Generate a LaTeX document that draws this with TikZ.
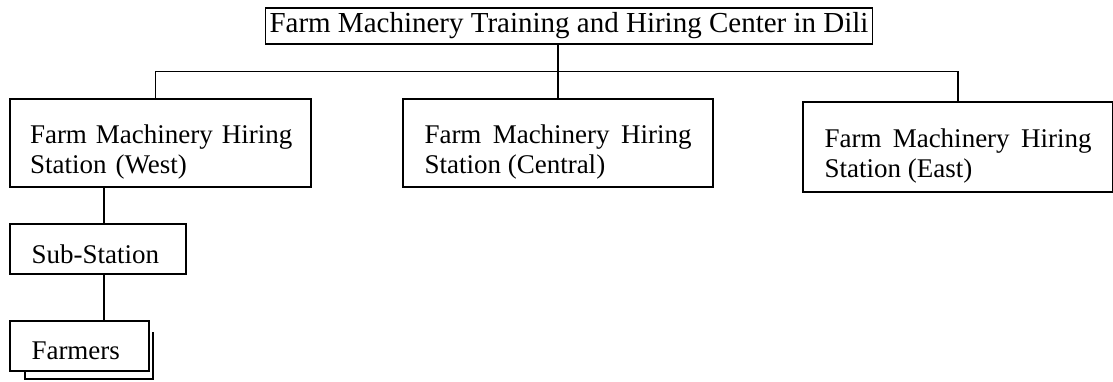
\documentclass[tikz,border=0pt]{standalone}
\usepackage{fontspec}
\setmainfont{Liberation Serif}
\usetikzlibrary{positioning, calc}

\begin{document}
\begin{tikzpicture}[
    x=1pt, y=1pt,
    box/.style={draw, line width=1.7pt, outer sep=0pt, inner ysep=0pt, inner xsep=21.5pt,
                font=\fontsize{27pt}{30pt}\selectfont},
    station/.style={box, text width=#1, minimum height=88pt, align=justify,
                    text height=44pt, text depth=44pt},
    small/.style={box, text width=#1, align=left},
    link/.style={line width=1.7pt}
  ]
  \useasboundingbox (0,0) rectangle (1113,-381);

  % Center
  \node[box, line width=1.4pt, inner xsep=4pt, minimum height=36pt,
        font=\fontsize{29pt}{33pt}\selectfont] (center) at (569,-26)
    {Farm Machinery Training and Hiring Center in Dili};

  % Hiring stations
  \node[station=267pt, below=55pt of center, xshift=-11pt] (central)
    {Farm Machinery Hiring Station (Central)};
  \node[station=261pt, inner xsep=20pt, align=left, left=92pt of central] (west)
    {\mbox{Farm Machinery Hiring}\\\mbox{Station (West)}};
  \node[station=267pt, text height=45pt, text depth=45pt,
        right=90pt of central, yshift=-4pt] (east)
    {Farm Machinery Hiring Station (East)};

  % Sub-station and farmers
  \node[small=133pt, text height=39pt, text depth=11pt,
        below=37pt of west.south west, anchor=north west] (sub) {Sub-Station};
  \node[small=96pt, text height=38pt, text depth=12pt,
        below=47pt of sub.south west, anchor=north west] (farmers) {Farmers};
  \draw[link] ([xshift=15pt]farmers.south west) -- ++(0,-8)
    -| ([xshift=4pt, yshift=-11pt]farmers.north east);

  % Connectors
  \coordinate (bus) at ($(center.south)!0.5!(central.north)$);
  \draw[link] (center.south -| central.north) -- (central.north);
  \draw[link] ([xshift=-5pt]west.north) |- (bus) -| (east.north);
  \coordinate (drop) at ([xshift=6pt]sub.north);
  \draw[link] (drop |- west.south) -- (drop);
  \draw[link] (drop |- sub.south) -- (drop |- farmers.north);
\end{tikzpicture}
\end{document}
